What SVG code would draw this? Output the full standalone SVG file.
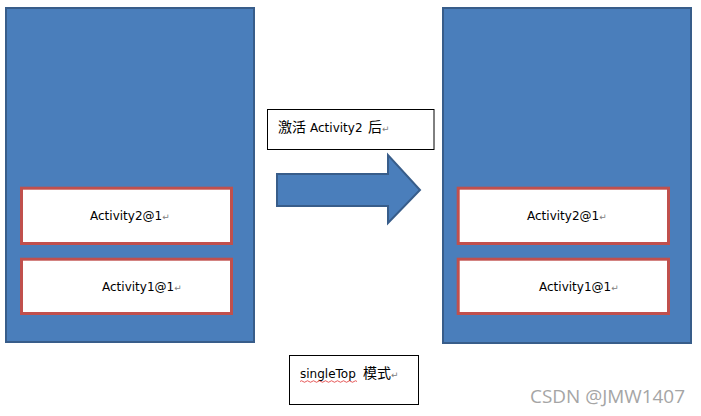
<svg xmlns="http://www.w3.org/2000/svg" width="701" height="416" viewBox="0 0 701 416">
  <style>
    .stack { fill: #4A7EBB; stroke: #385D8A; stroke-width: 2; }
    .act { fill: #FFFFFF; stroke: #C0504D; stroke-width: 3; }
    .lbl { fill: #FFFFFF; stroke: #000000; stroke-width: 1; }
    .t { font-family: "DejaVu Sans", "Noto Sans CJK SC", sans-serif; font-size: 12px; fill: #000000; }
    .cjk { font-family: "Noto Sans CJK SC", "DejaVu Sans", sans-serif; font-size: 14px; fill: #000000; }
    .ret { fill: #808080; font-size: 9px; font-family: "DejaVu Sans", sans-serif; }
    .wm { font-family: "Open Sans", "DejaVu Sans", sans-serif; font-size: 19px; fill: #a5a5a5; }
  </style>
  <rect width="701" height="416" fill="#FFFFFF"/>

  <g id="stack-before">
    <rect class="stack" x="6" y="8" width="248" height="334"/>
    <g id="before-activity2">
      <rect class="act" x="21.5" y="188.2" width="210" height="55.3"/>
      <text class="t" x="90" y="220">Activity2@1<tspan class="ret">↵</tspan></text>
    </g>
    <g id="before-activity1">
      <rect class="act" x="21.5" y="259.2" width="210" height="54.3"/>
      <text class="t" x="102" y="291">Activity1@1<tspan class="ret">↵</tspan></text>
    </g>
  </g>

  <g id="stack-after">
    <rect class="stack" x="443" y="8" width="248" height="335"/>
    <g id="after-activity2">
      <rect class="act" x="458.2" y="188.2" width="210.3" height="55.3"/>
      <text class="t" x="527" y="220">Activity2@1<tspan class="ret">↵</tspan></text>
    </g>
    <g id="after-activity1">
      <rect class="act" x="458.2" y="259.2" width="210.3" height="54.3"/>
      <text class="t" x="539" y="291">Activity1@1<tspan class="ret">↵</tspan></text>
    </g>
  </g>

  <g id="label-activate">
    <rect class="lbl" x="267.5" y="109.5" width="166.5" height="40"/>
    <text class="cjk" x="278" y="132">激活</text>
    <text class="t" x="310" y="132">Activity2</text>
    <text class="cjk" x="368" y="132">后<tspan class="ret">↵</tspan></text>
  </g>

  <g id="connectors">
    <polygon points="277,174 388,174 388,155 420,190 388,223 388,206 277,206" fill="#4A7EBB" stroke="#385D8A" stroke-width="2" stroke-linejoin="miter"/>
  </g>

  <g id="label-mode">
    <rect class="lbl" x="289.5" y="355.5" width="129" height="49"/>
    <text class="t" x="300" y="378">singleTop</text>
    <text class="cjk" x="363" y="378">模式<tspan class="ret">↵</tspan></text>
    <path d="M300 381.5 q1.5 -1.5 3 0 t3 0 t3 0 t3 0 t3 0 t3 0 t3 0 t3 0 t3 0 t3 0 t3 0 t3 0 t3 0 t3 0 t3 0 t3 0 t3 0 t3 0 t3 0" fill="none" stroke="#E03030" stroke-width="0.8"/>
  </g>

  <text class="wm" x="530" y="403" textLength="155" lengthAdjust="spacingAndGlyphs">CSDN @JMW1407</text>
</svg>
